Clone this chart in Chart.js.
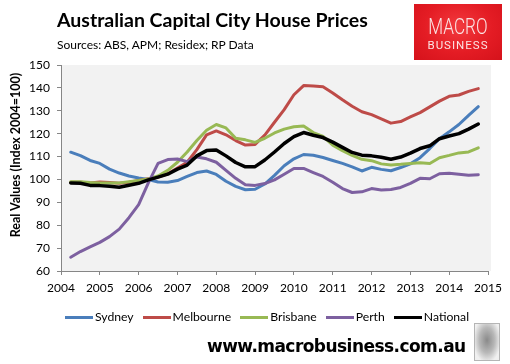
<!DOCTYPE html>
<html>
<head>
<meta charset="utf-8">
<script src="https://cdn.jsdelivr.net/npm/chart.js@4.4.0/dist/chart.umd.min.js"></script>
<style>
body { margin: 0; background: #fff; }
#wrap { position: relative; width: 510px; height: 364px; overflow: hidden; font-family: Lato, sans-serif; color: #000; }
#chart { position: absolute; left: 0; top: 0; }
#title { position: absolute; left: 57px; top: 10px; font-size: 19.5px; font-weight: bold; line-height: 1; white-space: nowrap; }
#sub { position: absolute; left: 57px; top: 39px; font-size: 12px; line-height: 1; white-space: nowrap; }
#ytitle { position: absolute; left: -84px; top: 147px; width: 200px; height: 16px; line-height: 16px; text-align: center;
  font-size: 12.5px; font-weight: bold; white-space: nowrap; transform: rotate(-90deg); }
#logo { position: absolute; left: 414px; top: 4px; width: 88px; height: 56px;
  background: radial-gradient(ellipse at 50% 40%, #f23a3e 0%, #e41c24 55%, #d5121b 100%); text-align: center; color: #fbe3e3; font-family: Roboto, sans-serif; }
#logo .m { position: absolute; left: 0; width: 88px; top: 12px; font-size: 22px; font-weight: 300; line-height: 1; transform: scaleX(0.78); }
#logo .b { position: absolute; left: 0; width: 88px; top: 36px; font-size: 11.5px; line-height: 1; letter-spacing: 1px; }
#legend { position: absolute; left: 65px; top: 309px; display: flex; align-items: center; gap: 9px; font-size: 12.2px; }
#legend .item { display: flex; align-items: center; }
#legend .line { display: inline-block; width: 28px; height: 3px; }
#legend .txt { margin-left: 2px; line-height: 16px; }
#footer { position: absolute; left: 207px; top: 338px; font-family: "DejaVu Sans", sans-serif; font-weight: bold; font-size: 17px; letter-spacing: -0.55px; line-height: 1; white-space: nowrap; }
#wolf { position: absolute; left: 474px; top: 323px; width: 26px; height: 38px; box-sizing: border-box; border: 1px solid #b5b5b5;
  background: radial-gradient(ellipse at 50% 45%, #8a8a8a 0%, #b8b8b8 45%, #f0f0f0 80%); }
</style>
</head>
<body>
<div id="wrap">
  <canvas id="chart" width="510" height="364"></canvas>
  <div id="title">Australian Capital City House Prices</div>
  <div id="sub">Sources: ABS, APM; Residex; RP Data</div>
  <div id="logo"><div class="m">MACRO</div><div class="b">BUSINESS</div></div>
  <div id="ytitle">Real Values (Index 2004=100)</div>
  <div id="legend"></div>
  <div id="footer">www.macrobusiness.com.au</div>
  <div id="wolf"></div>
</div>
<script>
// quarterly observations, as decimal years
var quarters = [2004.25, 2004.5, 2004.75, 2005, 2005.25, 2005.5, 2005.75, 2006, 2006.25, 2006.5, 2006.75,
	2007, 2007.25, 2007.5, 2007.75, 2008, 2008.25, 2008.5, 2008.75, 2009, 2009.25, 2009.5, 2009.75,
	2010, 2010.25, 2010.5, 2010.75, 2011, 2011.25, 2011.5, 2011.75, 2012, 2012.25, 2012.5, 2012.75,
	2013, 2013.25, 2013.5, 2013.75, 2014, 2014.25, 2014.5, 2014.75];

var sydney = [111.9, 110.4, 108.3, 107, 104.5, 102.8, 101.5, 100.6, 100, 98.9, 98.8,
	99.5, 101.3, 103, 103.7, 102.2, 99.2, 97, 95.5, 95.7, 98, 101.8, 106,
	109, 110.9, 110.6, 109.6, 108.3, 107, 105.5, 103.7, 105.3, 104.4, 103.8, 105.2,
	106.8, 109.5, 113.5, 117.8, 120.8, 124, 128, 131.8];
var melbourne = [98.8, 98.8, 98.5, 98.9, 98.7, 98.3, 98.8, 99.6, 100.3, 101, 102.5,
	105, 107.5, 113, 119.5, 121.2, 119.5, 117, 115, 115.3, 119.4, 125, 130.5,
	137, 141, 140.8, 140.5, 137.8, 134.8, 132, 129.6, 128.3, 126.5, 124.6, 125.3,
	127.3, 129.2, 131.7, 134.2, 136.3, 136.9, 138.5, 139.7];
var brisbane = [99, 99, 98.7, 98.5, 98.4, 98.5, 99, 99.5, 100.2, 101.5, 104,
	107.5, 112, 117, 121.5, 124, 122.5, 118, 117.3, 116.2, 118, 120.3, 122,
	123, 123.3, 120.5, 118.8, 115, 112.6, 110.5, 108.8, 108.2, 106.8, 106.3, 106.6,
	107, 107.3, 107, 109.5, 110.5, 111.6, 112, 113.8];
var perth = [66, 68.5, 70.5, 72.5, 75, 78.3, 83.3, 89, 98.5, 107, 108.7,
	108.9, 107.8, 109.8, 109, 107.5, 104, 100.5, 97.7, 97.4, 98.2, 99.8, 102.3,
	104.8, 104.8, 103, 101.3, 98.8, 96, 94.3, 94.6, 96, 95.4, 95.6, 96.5,
	98.3, 100.5, 100.3, 102.5, 102.7, 102.3, 101.8, 102.1];
var national = [98.5, 98.3, 97.4, 97.3, 97, 96.6, 97.5, 98.3, 99.8, 101, 102.3,
	104.5, 106.3, 110.3, 112.6, 112.9, 110.3, 107.4, 105.5, 105.6, 108.5, 112, 115.7,
	118.7, 120.5, 119.3, 118.3, 116.3, 114, 111.8, 110.6, 110.3, 109.7, 108.8, 109.8,
	111.5, 113.5, 114.7, 117.8, 119, 120, 122, 124.2];

var seriesNames = ["Sydney", "Melbourne", "Brisbane", "Perth", "National"];
var seriesData = [sydney, melbourne, brisbane, perth, national];
var seriesColors = ["#4A7EBB", "#BE4B48", "#98B954", "#7D60A0", "#000000"];

var yearTicks = [2004, 2005, 2006, 2007, 2008, 2009, 2010, 2011, 2012, 2013, 2014, 2015];
var valueTicks = [60, 70, 80, 90, 100, 110, 120, 130, 140, 150];

Chart.defaults.font.family = "Lato, sans-serif";
Chart.defaults.color = "#000";

function makeDataset(name, values, color, i)
{
	var pts = [];
	for(var k = 0; k < values.length; k++)
		pts.push({x: quarters[k], y: values[k]});
	return {
		label: name,
		data: pts,
		borderColor: color,
		backgroundColor: color,
		borderWidth: (name == "National") ? 3.5 : 3,
		pointRadius: 0,
		tension: 0,
		borderJoinStyle: "round",
		borderCapStyle: "round",
		order: seriesNames.length - i
	};
}

var datasets = [];
for(var i = 0; i < seriesNames.length; i++)
	datasets.push(makeDataset(seriesNames[i], seriesData[i], seriesColors[i], i));

// grey plot area like the Excel original
var plotBg = {
	id: "plotBg",
	beforeDraw: function(chart){
		var a = chart.chartArea, c = chart.ctx;
		c.save();
		c.fillStyle = "#f2f2f2";
		c.fillRect(a.left, a.top, a.right - a.left + 3, a.bottom - a.top);
		c.restore();
	}
};

var axisColor = "#868686";
new Chart(document.getElementById("chart"), {
	type: "line",
	data: { datasets: datasets },
	plugins: [plotBg],
	options: {
		responsive: false,
		animation: false,
		layout: { padding: { top: 65, left: 0, right: 22, bottom: 63 } },
		plugins: { legend: { display: false }, tooltip: { enabled: false } },
		scales: {
			x: {
				type: "linear", min: 2004, max: 2015,
				afterBuildTicks: function(s){ s.ticks = yearTicks.map(function(v){ return {value: v}; }); },
				afterFit: function(s){ s.height = 30; },
				ticks: { callback: function(v){ return String(v); }, font: { size: 12 }, padding: 6, maxRotation: 0, autoSkip: false },
				grid: { drawOnChartArea: false, tickLength: 4, color: axisColor },
				border: { color: axisColor }
			},
			y: {
				min: 60, max: 150,
				afterBuildTicks: function(s){ s.ticks = valueTicks.map(function(v){ return {value: v}; }); },
				afterFit: function(s){ s.width = 61; },
				ticks: { font: { size: 12 }, padding: 7 },
				grid: { drawOnChartArea: false, tickLength: 4, color: axisColor },
				border: { color: axisColor }
			}
		}
	}
});

var legend = document.getElementById("legend");
for(var i = 0; i < seriesNames.length; i++)
{
	var item = document.createElement("span");
	item.className = "item";
	item.innerHTML = '<span class="line" style="background:' + seriesColors[i] + '"></span><span class="txt">' + seriesNames[i] + '</span>';
	legend.appendChild(item);
}
</script>
</body>
</html>
